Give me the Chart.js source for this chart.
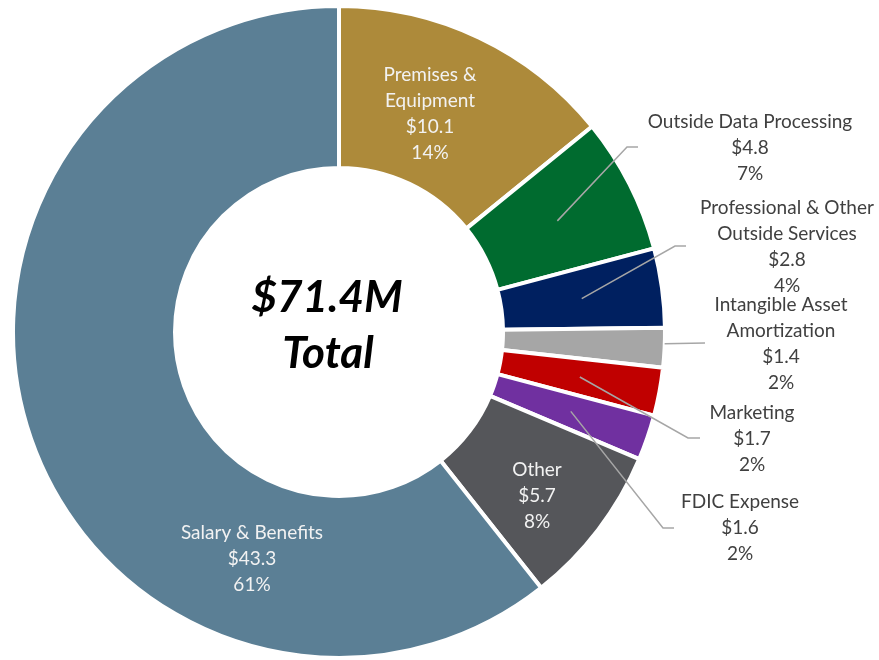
<!DOCTYPE html>
<html>
<head>
<meta charset="utf-8">
<script src="https://cdn.jsdelivr.net/npm/chart.js@4"></script>
<style>
  html, body { margin: 0; padding: 0; background: #ffffff; }
  #wrap { width: 879px; height: 660px; position: relative; }
</style>
</head>
<body>
<div id="wrap"><canvas id="c" width="879" height="660"></canvas></div>
<script>
// ---- data ----
const categories = [
  "Premises & Equipment",
  "Outside Data Processing",
  "Professional & Other Outside Services",
  "Intangible Asset Amortization",
  "Marketing",
  "FDIC Expense",
  "Other",
  "Salary & Benefits"
];
const values = [10.1, 4.8, 2.8, 1.4, 1.7, 1.6, 5.7, 43.3];
const percentLabels = ["14%", "7%", "4%", "2%", "2%", "2%", "8%", "61%"];
const labelLines = [
  ["Premises &", "Equipment"],
  ["Outside Data Processing"],
  ["Professional & Other", "Outside Services"],
  ["Intangible Asset", "Amortization"],
  ["Marketing"],
  ["FDIC Expense"],
  ["Other"],
  ["Salary & Benefits"]
];
const totalLabel = ["$71.4M", "Total"];

// ---- style / layout ----
const colors = ["#AD8A3A", "#006B2F", "#002060", "#A6A6A6", "#C00000", "#7030A0", "#55565A", "#5B7F95"];
const FONT = "Lato, 'Open Sans', sans-serif";
const labelLayout = [
  { x: 430, y: 75, inside: true },
  { x: 750, y: 122, inside: false, elbow: [627, 147], endX: 638 },
  { x: 787, y: 208, inside: false, elbow: [675, 246], endX: 686 },
  { x: 781, y: 305, inside: false, elbow: [705, 343], endX: 705, outer: true },
  { x: 752, y: 413, inside: false, elbow: [688, 438], endX: 700 },
  { x: 740, y: 502, inside: false, elbow: [663, 528], endX: 674 },
  { x: 537, y: 470, inside: true },
  { x: 252, y: 533, inside: true }
];
const LINE_H = 26;

const labelPlugin = {
  id: 'sliceLabels',
  afterDatasetsDraw(chart) {
    const ctx = chart.ctx;
    const meta = chart.getDatasetMeta(0);
    ctx.save();
    meta.data.forEach((arc, i) => {
      const L = labelLayout[i];
      if (L.inside) return;
      let sx, sy;
      if (L.outer) {
        const props = arc.getProps(['x', 'y', 'startAngle', 'endAngle', 'outerRadius'], true);
        const a = (props.startAngle + props.endAngle) / 2;
        sx = props.x + props.outerRadius * Math.cos(a);
        sy = props.y + props.outerRadius * Math.sin(a) - 4;
      } else {
        const p = arc.getCenterPoint(true);
        sx = p.x; sy = p.y;
      }
      ctx.strokeStyle = '#A6A6A6';
      ctx.lineWidth = 1.5;
      ctx.beginPath();
      ctx.moveTo(sx, sy);
      ctx.lineTo(L.elbow[0], L.elbow[1]);
      ctx.lineTo(L.endX, L.elbow[1]);
      ctx.stroke();
    });
    ctx.textAlign = 'center';
    ctx.textBaseline = 'middle';
    ctx.font = "19px " + FONT;
    meta.data.forEach((arc, i) => {
      const L = labelLayout[i];
      const lines = labelLines[i].concat(["$" + values[i].toFixed(1), percentLabels[i]]);
      ctx.fillStyle = L.inside ? '#F2F2F2' : '#404040';
      lines.forEach((t, k) => {
        ctx.fillText(t, L.x, L.y + k * LINE_H);
      });
    });
    ctx.fillStyle = '#000000';
    ctx.font = "italic bold 44px " + FONT;
    ctx.fillText(totalLabel[0], 327, 298);
    ctx.fillText(totalLabel[1], 328, 354);
    ctx.restore();
  }
};

new Chart(document.getElementById('c'), {
  type: 'doughnut',
  data: {
    labels: categories,
    datasets: [{
      data: values,
      backgroundColor: colors,
      borderColor: '#ffffff',
      borderWidth: 4,
      hoverOffset: 0,
      offset: 0
    }]
  },
  options: {
    responsive: false,
    animation: false,
    cutout: 164,
    layout: { padding: { left: 9, right: 210, top: 4, bottom: -3 } },
    plugins: {
      legend: { display: false },
      tooltip: { enabled: false }
    }
  },
  plugins: [labelPlugin]
});
</script>
</body>
</html>
